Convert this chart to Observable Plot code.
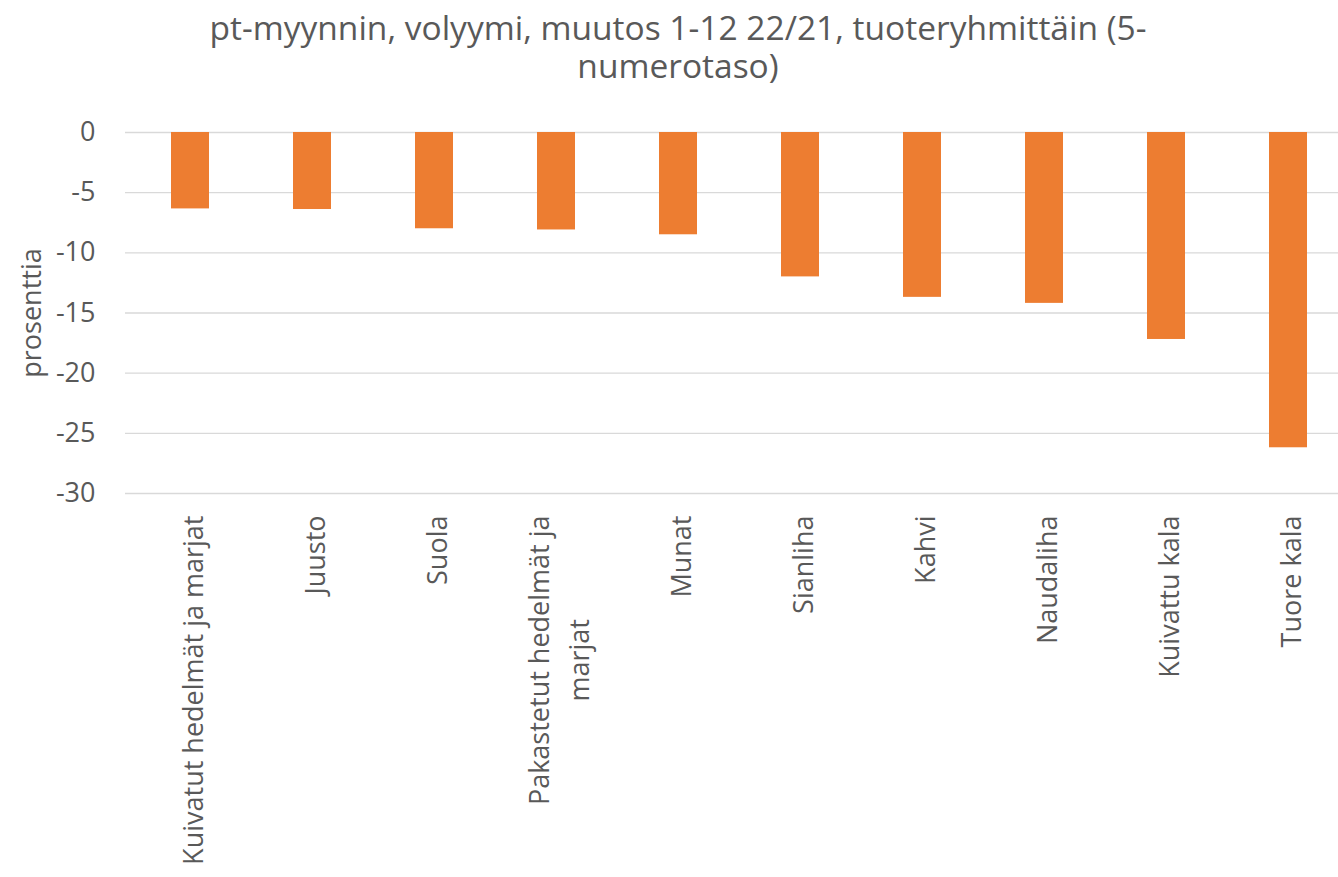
<!DOCTYPE html>
<html><head><meta charset="utf-8">
<script src="https://cdn.jsdelivr.net/npm/d3@7"></script>
<script src="https://cdn.jsdelivr.net/npm/@observablehq/plot@0.6"></script>
<style>
html,body{margin:0;padding:0;background:#fff;overflow:hidden;}
#title{width:1356px;height:100px;box-sizing:border-box;padding-top:8px;text-align:center;font-family:"Open Sans";font-size:33.5px;color:#595959;}
#title div{height:38px;line-height:38px;white-space:nowrap;}
#chart svg{display:block;overflow:visible;}
</style></head><body>
<div id="title"><div>pt-myynnin, volyymi, muutos 1-12 22/21, tuoteryhmittäin (5-</div><div>numerotaso)</div></div>
<div id="chart"></div>
<script>
const categories = ["Kuivatut hedelmät ja marjat","Juusto","Suola","Pakastetut hedelmät ja marjat","Munat","Sianliha","Kahvi","Naudaliha","Kuivattu kala","Tuore kala"];
const values = [-6.35,-6.4,-8.0,-8.1,-8.5,-12.0,-13.7,-14.2,-17.2,-26.2];
const tickLabels = ["Kuivatut hedelmät ja marjat","Juusto","Suola","Pakastetut hedelmät ja\nmarjat","Munat","Sianliha","Kahvi","Naudaliha","Kuivattu kala","Tuore kala"];
const yTicks = [0,-5,-10,-15,-20,-25,-30];
const yLabel = "prosenttia";

const data = categories.map((c,i)=>({category:c, value: values[i]}));
const labelOf = new Map(categories.map((c,i)=>[c,tickLabels[i]]));

const chart = Plot.plot({
  width: 1338, height: 777,
  marginTop: 32, marginBottom: 384, marginLeft: 125, marginRight: -15,
  style: {fontFamily: "Open Sans", fontSize: "27px", color: "#595959", background: "#fff", overflow: "visible"},
  x: {domain: categories, paddingInner: 0.69, paddingOuter: 0.345},
  y: {domain: [-30, 0]},
  marks: [
    Plot.gridY(yTicks, {stroke: "#d9d9d9", strokeOpacity: 1, strokeWidth: 1.3}),
    Plot.barY(data, {x: "category", y1: 0, y2: "value", fill: "#ED7D31"}),
    Plot.axisY(yTicks, {tickSize: 0, tickPadding: 30, tickFormat: d => String(d), label: yLabel, labelAnchor: "center", labelOffset: 104, labelArrow: false, fill: "#595959"}),
    Plot.axisX({tickSize: 0, tickPadding: 22, tickRotate: -90, tickFormat: d => labelOf.get(d), label: null, lineHeight: 1.48, fill: "#595959"})
  ]
});
document.getElementById("chart").appendChild(chart);
// center wrapped lines of multi-line tick labels relative to each other
chart.querySelectorAll("text").forEach(t => {
  const spans = t.querySelectorAll("tspan");
  if (spans.length > 1) {
    const lens = Array.from(spans, s => s.getComputedTextLength());
    const maxL = Math.max(...lens);
    spans.forEach((s, i) => s.setAttribute("x", -(maxL - lens[i]) / 2));
  }
});
</script>
</body></html>
